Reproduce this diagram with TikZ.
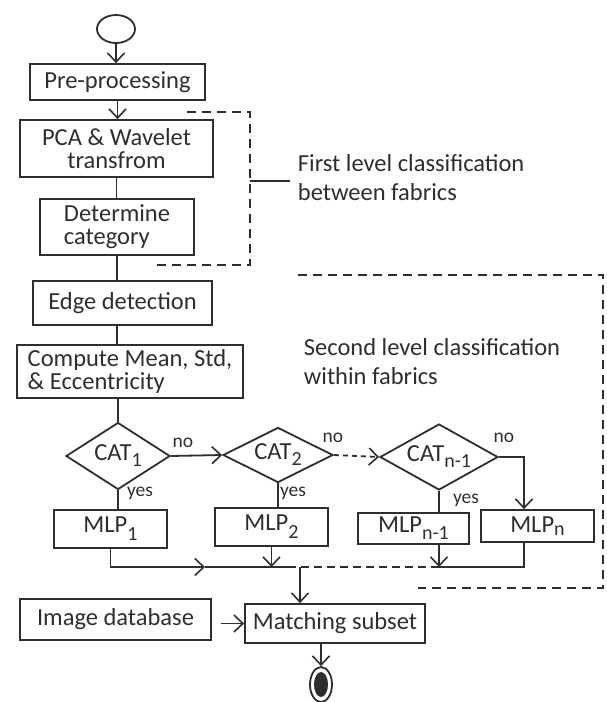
\documentclass[tikz,border=0pt]{standalone}
\usepackage{fontspec}
\setmainfont{Carlito}
\usepackage{tikz}
\usetikzlibrary{shapes.geometric}
\usetikzlibrary{arrows.meta}
\definecolor{ink}{HTML}{2E2E2E}
\newcommand{\lowr}[2][6pt]{\raisebox{-#1}{\fontsize{20}{20}\selectfont #2}}

\begin{document}
\begin{tikzpicture}[x=1pt, y=-1pt, line width=1.8pt, color=ink,
	box/.style={draw, rectangle, inner sep=2pt, font=\fontsize{24.5}{23}\selectfont},
	cat/.style={draw, diamond, inner sep=0pt},
	cattext/.style={font=\fontsize{24.5}{24}\selectfont, inner sep=0pt},
	lbl/.style={font=\fontsize{19.5}{20}\selectfont, inner sep=0pt},
	note/.style={align=left, font=\fontsize{24.5}{29}\selectfont, inner sep=0pt},
	arr/.style={-{Straight Barb[length=9pt,width=17pt,line width=1.6pt]}},
	brace/.style={dash pattern=on 9pt off 6pt}]
	\useasboundingbox (0,0) rectangle (606,702);
	
	%first part
	\node[draw, ellipse, minimum width=38, minimum height=28, inner sep=0pt] (start) at (116,29) {};
	\node[box, minimum width=175, minimum height=36] (pre) at (117.5,82) {Pre-processing};
	\node[box, minimum width=193, minimum height=57, align=center] (pca) at (116.5,148.5) {PCA \& Wavelet\\transfrom};
	\node[box, minimum width=154, minimum height=56, align=left] (det) at (117,227) {Determine\\category};
	\node[box, minimum width=179, minimum height=44] (edge) at (122.5,303) {Edge detection};
	\node[box, minimum width=226, minimum height=53, align=left] (comp) at (130,371.5) {Compute Mean, Std,\\ \& Eccentricity};
	
	%categories
	\node[cat, minimum width=104, minimum height=67] (cat1) at (118,456) {};
	\node[cat, minimum width=110, minimum height=55] (cat2) at (278,455) {};
	\node[cat, minimum width=118, minimum height=66] (catn1) at (439,457) {};
	\node[cattext] (cat1txt) at (cat1) {CAT\lowr{1}};
	\node[cattext] (cat2txt) at (cat2) {CAT\lowr{2}};
	\node[cattext] (catn1txt) at (catn1) {CAT\lowr{n-1}};
	\node[lbl] (no1) at (183,443) {no};
	\node[lbl] (no2) at (333,438) {no};
	\node[lbl] (no3) at (504,438) {no};
	\node[lbl] (yes1) at (140,493) {yes};
	\node[lbl] (yes2) at (293,493) {yes};
	\node[lbl] (yes3) at (466,500) {yes};
	
	%classifiers
	\node[box, minimum width=113, minimum height=38] (mlp1) at (110.5,529) {MLP\lowr[8pt]{1}};
	\node[box, minimum width=113, minimum height=38] (mlp2) at (271.5,527) {MLP\lowr[8pt]{2}};
	\node[box, minimum width=111, minimum height=31] (mlpn1) at (413.5,528.5) {MLP\lowr[7pt]{n-1}};
	\node[box, minimum width=113, minimum height=32] (mlpn) at (537.5,526) {MLP\lowr[3pt]{n}};
	
	%last part
	\node[box, minimum width=191, minimum height=41] (imgdb) at (115.5,619.5) {Image database};
	\node[box, minimum width=180, minimum height=39] (match) at (335,623.5) {Matching subset};
	\node[draw, ellipse, minimum width=22, minimum height=35, inner sep=0pt] (end) at (321,684.5) {};
	\node[fill=ink, ellipse, minimum width=14, minimum height=25, inner sep=0pt] (endin) at (end) {};
	
	\coordinate (nturn) at (524,457);
	\coordinate (jarr) at (205,567);
	\coordinate (jdash) at (288,567);
	\coordinate (jmid) at (300,567);
	\coordinate (jn1) at (439,567);
	\coordinate (jn) at (524,567);
	
	%connectors
	\draw[arr] (start.south) -- (start.south |- pre.north);
	\draw[arr] (pre.south) -- (pre.south |- pca.north);
	\draw (pca.south) -- (pca.south |- det.north);
	\draw (det.south) -- (det.south |- edge.north);
	\draw (edge.south -| det.south) -- (det.south |- comp.north);
	\draw (cat1.north |- comp.south) -- (cat1.north);
	\draw[arr] (cat1.east) -- (cat2.west);
	\draw[arr, dash pattern=on 5pt off 4pt] (cat2.east) -- (catn1.west);
	\draw[arr] (catn1.east) -- (nturn) -- (nturn |- mlpn.north);
	\draw (cat1.south) -- (cat1.south |- mlp1.north);
	\draw (cat2.south) -- (cat2.south |- mlp2.north);
	\draw (catn1.south) -- (catn1.south |- mlpn1.north);
	
	\draw[arr] (mlp1.south) |- (jarr);
	\draw (jarr) -- (jdash);
	\draw[dash pattern=on 8pt off 5pt] (jdash) -- (jn1);
	\draw (jn1) -- (jn) -- (nturn |- mlpn.south);
	\draw[arr] (mlp2.south) -- (mlp2.south |- jarr);
	\draw[arr] (catn1.south |- mlpn1.south) -- (jn1);
	\draw[arr] (jmid) -- (jmid |- match.north);
	\draw[arr, shorten <=9pt] (imgdb.east |- match.west) -- (match.west);
	\draw[arr] (end.north |- match.south) -- (end.north);
	
	%levels
	\node[note, anchor=west] (note1) at (297,178) {First level classification\\between fabrics};
	\node[note, anchor=west] (note2) at (303,362) {Second level classification\\within fabrics};
	\coordinate (b1) at (250,181);
	\draw[brace] (187,112) -- (250,112) -- (250,265) -- (157,265);
	\draw[shorten >=7pt] (b1) -- (b1 -| note1.west);
	\draw[brace] (298,275) -- (603,275) -- (603,588) -- (418,588);
\end{tikzpicture}
\end{document}
